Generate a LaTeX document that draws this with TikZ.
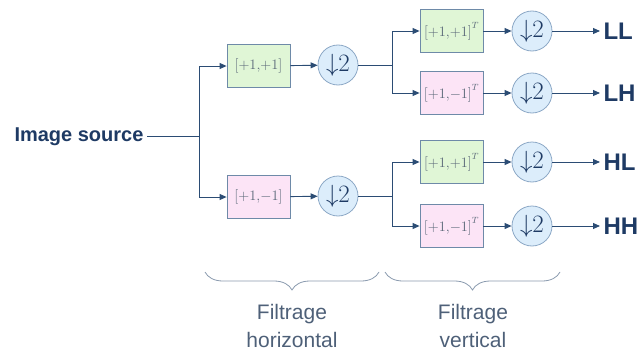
\documentclass[tikz,border=0pt]{standalone}
\usepackage{fontspec}
\setsansfont{Liberation Sans}
\usetikzlibrary{arrows.meta,decorations.pathreplacing}
\definecolor{wire}{HTML}{2B4C74}
\definecolor{inkblue}{HTML}{1E3A64}
\definecolor{greenfill}{HTML}{E0F6D6}
\definecolor{pinkfill}{HTML}{FCE4F6}
\definecolor{boxline}{HTML}{6E8AA8}
\definecolor{circfill}{HTML}{DCEDFB}
\definecolor{circline}{HTML}{8CA8C6}
\definecolor{filtertext}{HTML}{5A6878}
\definecolor{bracecol}{HTML}{8A9AAE}
\definecolor{captext}{HTML}{4E6078}
\tikzset{
  wireline/.style={draw=wire, line width=0.9pt},
  arr/.style={wireline, -{Triangle[length=7pt,width=6pt]}},
  filtbox/.style={draw=boxline, line width=0.8pt, minimum width=63pt, minimum height=43pt,
    inner sep=0pt, text=filtertext, font=\fontsize{13.5}{15}\selectfont},
  lowbox/.style={filtbox, fill=greenfill},
  highbox/.style={filtbox, fill=pinkfill},
  decim/.style={circle, draw=circline, line width=0.8pt, fill=circfill, minimum size=40pt,
    inner sep=0pt, text=inkblue, font=\fontsize{25}{27}\selectfont},
  outlabel/.style={anchor=west, text=inkblue, font=\sffamily\bfseries\fontsize{24}{27}\selectfont},
  bracepath/.style={draw=bracecol, line width=0.8pt, decorate,
    decoration={brace, amplitude=18pt, aspect=0.5}},
  caption/.style={align=center, text=captext, font=\sffamily\fontsize{21}{28}\selectfont}
}
\newcommand{\decimtwo}{$\downarrow$2}
\begin{document}
\begin{tikzpicture}[x=1pt,y=-1pt]
  \useasboundingbox (0,0) rectangle (643,356);

  % input
  \node[anchor=east, text=inkblue, font=\sffamily\bfseries\fontsize{20}{22}\selectfont] (src) at (147,137) {Image source};
  \coordinate (j0) at (199,136);

  % horizontal filtering stage
  \node[lowbox]  (hl) at (258.5,66)  {$\Big[{+}1{,}{+}1\Big]$};
  \node[highbox] (hh) at (258.5,197) {$\Big[{+}1{,}{-}1\Big]$};
  \node[decim] (dl) at (338,65)  {\decimtwo};
  \node[decim] (dh) at (338,196) {\decimtwo};

  \draw[wireline] (src.east |- j0) -- (j0);
  \draw[arr] (j0) |- (hl.west);
  \draw[arr] (j0) |- (hh.west);
  \draw[arr] (hl) -- (dl);
  \draw[arr] (hh) -- (dh);

  % vertical filtering stage
  \coordinate (j1) at (392,65);
  \coordinate (j2) at (392,196);
  \node[lowbox]  (vll) at (451.5,31)  {$\Big[{+}1{,}{+}1\Big]^T$};
  \node[highbox] (vlh) at (451.5,93)  {$\Big[{+}1{,}{-}1\Big]^T$};
  \node[lowbox]  (vhl) at (451.5,162) {$\Big[{+}1{,}{+}1\Big]^T$};
  \node[highbox] (vhh) at (451.5,226) {$\Big[{+}1{,}{-}1\Big]^T$};

  \node[decim] (dll) at (532,31)  {\decimtwo};
  \node[decim] (dlh) at (532,93)  {\decimtwo};
  \node[decim] (dhl) at (532,162) {\decimtwo};
  \node[decim] (dhh) at (532,226) {\decimtwo};

  \node[outlabel] (ll) at (600,31)  {LL};
  \node[outlabel] (lh) at (600,93)  {LH};
  \node[outlabel] (hlo) at (600,162) {HL};
  \node[outlabel] (hho) at (600,226) {HH};

  \draw[wireline] (dl) -- (j1);
  \draw[wireline] (dh) -- (j2);
  \draw[arr] (j1) |- (vll.west);
  \draw[arr] (j1) |- (vlh.west);
  \draw[arr] (j2) |- (vhl.west);
  \draw[arr] (j2) |- (vhh.west);

  \foreach \f/\d/\o in {vll/dll/ll, vlh/dlh/lh, vhl/dhl/hlo, vhh/dhh/hho}{
    \draw[arr] (\f) -- (\d);
    \draw[arr] (\d) -- (\o.west);
  }

  % braces and captions
  \coordinate (b1l) at (205,272);
  \coordinate (b1r) at (379,272);
  \coordinate (b2l) at (385,272);
  \coordinate (b2r) at (560,272);
  \draw[bracepath] (b1r) -- (b1l);
  \draw[bracepath] (b2r) -- (b2l);
  \node[caption] (capH) at (292,326) {Filtrage\\horizontal};
  \node[caption] (capV) at (473,326) {Filtrage\\vertical};
\end{tikzpicture}
\end{document}
